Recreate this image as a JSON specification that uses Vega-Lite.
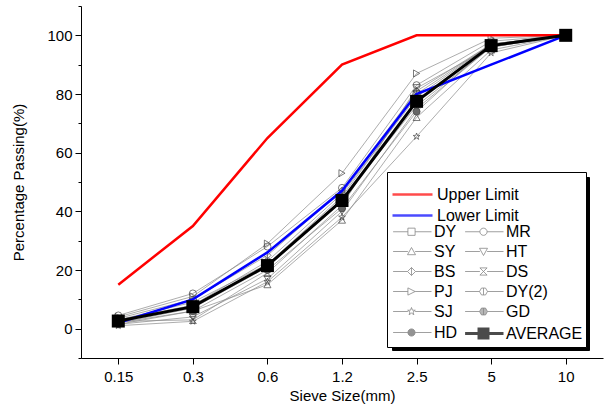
{
  "$schema": "https://vega.github.io/schema/vega-lite/v6.json",
  "width": 522,
  "height": 352,
  "autosize": {"type": "none"},
  "padding": {"left": 81, "top": 6, "right": 2, "bottom": 58},
  "background": "white",
  "config": {
    "view": {"stroke": null},
    "font": "Liberation Sans",
    "axis": {
      "grid": false,
      "domainColor": "black",
      "tickColor": "black",
      "labelColor": "black",
      "titleColor": "black",
      "labelFont": "Liberation Sans",
      "titleFont": "Liberation Sans",
      "labelFontSize": 15,
      "titleFontSize": 15,
      "titleFontWeight": "normal",
      "domainWidth": 1,
      "tickWidth": 1
    }
  },
  "data": {
    "values": [
      {"series": "Upper Limit", "size": 0.15, "pct": 15},
      {"series": "Upper Limit", "size": 0.3, "pct": 35},
      {"series": "Upper Limit", "size": 0.6, "pct": 65},
      {"series": "Upper Limit", "size": 1.2, "pct": 90},
      {"series": "Upper Limit", "size": 2.5, "pct": 100},
      {"series": "Upper Limit", "size": 5, "pct": 100},
      {"series": "Upper Limit", "size": 10, "pct": 100},
      {"series": "Lower Limit", "size": 0.15, "pct": 2},
      {"series": "Lower Limit", "size": 0.3, "pct": 10},
      {"series": "Lower Limit", "size": 0.6, "pct": 26},
      {"series": "Lower Limit", "size": 1.2, "pct": 47},
      {"series": "Lower Limit", "size": 2.5, "pct": 80},
      {"series": "Lower Limit", "size": 5, "pct": 90},
      {"series": "Lower Limit", "size": 10, "pct": 100},
      {"series": "DY", "size": 0.15, "pct": 3},
      {"series": "DY", "size": 0.3, "pct": 9},
      {"series": "DY", "size": 0.6, "pct": 22},
      {"series": "DY", "size": 1.2, "pct": 45},
      {"series": "DY", "size": 2.5, "pct": 80},
      {"series": "DY", "size": 5, "pct": 97},
      {"series": "DY", "size": 10, "pct": 100},
      {"series": "MR", "size": 0.15, "pct": 4.5},
      {"series": "MR", "size": 0.3, "pct": 12},
      {"series": "MR", "size": 0.6, "pct": 28},
      {"series": "MR", "size": 1.2, "pct": 48},
      {"series": "MR", "size": 2.5, "pct": 83},
      {"series": "MR", "size": 5, "pct": 98},
      {"series": "MR", "size": 10, "pct": 100},
      {"series": "SY", "size": 0.15, "pct": 2},
      {"series": "SY", "size": 0.3, "pct": 6},
      {"series": "SY", "size": 0.6, "pct": 15},
      {"series": "SY", "size": 1.2, "pct": 37},
      {"series": "SY", "size": 2.5, "pct": 72},
      {"series": "SY", "size": 5, "pct": 95},
      {"series": "SY", "size": 10, "pct": 100},
      {"series": "HT", "size": 0.15, "pct": 1.5},
      {"series": "HT", "size": 0.3, "pct": 4},
      {"series": "HT", "size": 0.6, "pct": 17},
      {"series": "HT", "size": 1.2, "pct": 40},
      {"series": "HT", "size": 2.5, "pct": 75},
      {"series": "HT", "size": 5, "pct": 96},
      {"series": "HT", "size": 10, "pct": 100},
      {"series": "BS", "size": 0.15, "pct": 3.5},
      {"series": "BS", "size": 0.3, "pct": 10},
      {"series": "BS", "size": 0.6, "pct": 25},
      {"series": "BS", "size": 1.2, "pct": 47},
      {"series": "BS", "size": 2.5, "pct": 81},
      {"series": "BS", "size": 5, "pct": 97},
      {"series": "BS", "size": 10, "pct": 100},
      {"series": "DS", "size": 0.15, "pct": 2.5},
      {"series": "DS", "size": 0.3, "pct": 3},
      {"series": "DS", "size": 0.6, "pct": 19},
      {"series": "DS", "size": 1.2, "pct": 42},
      {"series": "DS", "size": 2.5, "pct": 82},
      {"series": "DS", "size": 5, "pct": 96},
      {"series": "DS", "size": 10, "pct": 100},
      {"series": "PJ", "size": 0.15, "pct": 4},
      {"series": "PJ", "size": 0.3, "pct": 11},
      {"series": "PJ", "size": 0.6, "pct": 29},
      {"series": "PJ", "size": 1.2, "pct": 53},
      {"series": "PJ", "size": 2.5, "pct": 87},
      {"series": "PJ", "size": 5, "pct": 99},
      {"series": "PJ", "size": 10, "pct": 100},
      {"series": "DY(2)", "size": 0.15, "pct": 3},
      {"series": "DY(2)", "size": 0.3, "pct": 8},
      {"series": "DY(2)", "size": 0.6, "pct": 23},
      {"series": "DY(2)", "size": 1.2, "pct": 46},
      {"series": "DY(2)", "size": 2.5, "pct": 79},
      {"series": "DY(2)", "size": 5, "pct": 97},
      {"series": "DY(2)", "size": 10, "pct": 100},
      {"series": "SJ", "size": 0.15, "pct": 1},
      {"series": "SJ", "size": 0.3, "pct": 2.5},
      {"series": "SJ", "size": 0.6, "pct": 16},
      {"series": "SJ", "size": 1.2, "pct": 38},
      {"series": "SJ", "size": 2.5, "pct": 65.5},
      {"series": "SJ", "size": 5, "pct": 94},
      {"series": "SJ", "size": 10, "pct": 100},
      {"series": "GD", "size": 0.15, "pct": 2},
      {"series": "GD", "size": 0.3, "pct": 7},
      {"series": "GD", "size": 0.6, "pct": 21},
      {"series": "GD", "size": 1.2, "pct": 44},
      {"series": "GD", "size": 2.5, "pct": 76},
      {"series": "GD", "size": 5, "pct": 96},
      {"series": "GD", "size": 10, "pct": 100},
      {"series": "HD", "size": 0.15, "pct": 1.5},
      {"series": "HD", "size": 0.3, "pct": 6},
      {"series": "HD", "size": 0.6, "pct": 20},
      {"series": "HD", "size": 1.2, "pct": 41},
      {"series": "HD", "size": 2.5, "pct": 74},
      {"series": "HD", "size": 5, "pct": 97},
      {"series": "HD", "size": 10, "pct": 100},
      {"series": "AVERAGE", "size": 0.15, "pct": 2.6},
      {"series": "AVERAGE", "size": 0.3, "pct": 7.5},
      {"series": "AVERAGE", "size": 0.6, "pct": 21.5},
      {"series": "AVERAGE", "size": 1.2, "pct": 43.7},
      {"series": "AVERAGE", "size": 2.5, "pct": 77.5},
      {"series": "AVERAGE", "size": 5, "pct": 96.5},
      {"series": "AVERAGE", "size": 10, "pct": 100}
    ]
  },
  "encoding": {
    "x": {
      "field": "size",
      "type": "ordinal",
      "title": "Sieve Size(mm)",
      "scale": {"type": "point", "padding": 0.5},
      "axis": {"labelAngle": 0, "tickSize": 6, "labelPadding": 5, "titlePadding": 4}
    },
    "y": {
      "field": "pct",
      "type": "quantitative",
      "title": "Percentage Passing(%)",
      "scale": {"domain": [-10, 110], "nice": false, "zero": false},
      "axis": {
        "values": [-10, 0, 10, 20, 30, 40, 50, 60, 70, 80, 90, 100, 110],
        "labelExpr": "(datum.value % 20 === 0 && datum.value >= 0 && datum.value <= 100) ? datum.label : ''",
        "tickSize": {"condition": {"test": "datum.value % 20 === 0", "value": 6}, "value": 3},
        "labelPadding": 3,
        "titlePadding": 20
      }
    }
  },
  "layer": [
    {
      "transform": [{"filter": {"not": {"field": "series", "oneOf": ["Upper Limit", "Lower Limit", "AVERAGE"]}}}],
      "mark": {"type": "line", "color": "#8a8a8a", "strokeWidth": 0.7},
      "encoding": {"detail": {"field": "series", "type": "nominal"}}
    },
    {
      "transform": [{"filter": {"not": {"field": "series", "oneOf": ["Upper Limit", "Lower Limit", "AVERAGE"]}}}],
      "mark": {"type": "point", "filled": false, "size": 50, "stroke": "#444444", "strokeWidth": 0.7, "opacity": 1},
      "encoding": {
        "shape": {
          "field": "series",
          "type": "nominal",
          "legend": null,
          "scale": {
            "domain": ["DY", "MR", "SY", "HT", "BS", "DS", "PJ", "DY(2)", "SJ", "GD", "HD"],
            "range": [
              "square",
              "circle",
              "triangle-up",
              "triangle-down",
              "M0,-1L1,0L0,1L-1,0ZM0,-1V1",
              "M-1,-1L1,1M1,-1L-1,1M-1,-1H1M-1,1H1",
              "triangle-right",
              "M-0.5,-0.87H0.5L1,0L0.5,0.87H-0.5L-1,0ZM0,-0.87V0.87",
              "M0,-1L0.24,-0.33L0.95,-0.31L0.38,0.12L0.59,0.81L0,0.4L-0.59,0.81L-0.38,0.12L-0.95,-0.31L-0.24,-0.33Z",
              "M-0.5,-0.87H0.5L1,0L0.5,0.87H-0.5L-1,0ZM0,-0.87V0.87",
              "circle"
            ]
          }
        },
        "fill": {
          "field": "series",
          "type": "nominal",
          "legend": null,
          "scale": {
            "domain": ["DY", "MR", "SY", "HT", "BS", "DS", "PJ", "DY(2)", "SJ", "GD", "HD"],
            "range": ["transparent", "transparent", "transparent", "transparent", "transparent", "transparent", "transparent", "transparent", "transparent", "#999999", "#666666"]
          }
        }
      }
    },
    {
      "transform": [{"filter": "datum.series === 'Upper Limit'"}],
      "mark": {"type": "line", "color": "#ff0000", "strokeWidth": 2.5},
      "encoding": {}
    },
    {
      "transform": [{"filter": "datum.series === 'Lower Limit'"}],
      "mark": {"type": "line", "color": "#0000ff", "strokeWidth": 2.5},
      "encoding": {}
    },
    {
      "transform": [{"filter": "datum.series === 'AVERAGE'"}],
      "mark": {"type": "line", "color": "#000000", "strokeWidth": 3},
      "encoding": {}
    },
    {
      "transform": [{"filter": "datum.series === 'AVERAGE'"}],
      "mark": {"type": "point", "shape": "square", "filled": true, "color": "#000000", "size": 169, "opacity": 1},
      "encoding": {}
    },
    {
      "transform": [{"filter": "false"}],
      "mark": {"type": "point", "filled": false, "color": "transparent"},
      "encoding": {
        "shape": {
          "field": "series",
          "type": "nominal",
          "title": null,
          "scale": {"domain": ["AVERAGE"], "range": ["M0,0H22.3V19.35"]},
          "legend": {
            "orient": "none",
            "legendX": 311,
            "legendY": 171,
            "labelExpr": "''",
            "symbolSize": 256,
            "symbolStrokeColor": "transparent",
            "symbolFillColor": "transparent",
            "padding": 3,
            "strokeColor": "black",
            "fillColor": "black"
          }
        }
      }
    },
    {
      "transform": [{"filter": "false"}],
      "mark": {"type": "point", "filled": false},
      "encoding": {
        "shape": {
          "field": "series",
          "type": "nominal",
          "scale": {
            "domain": ["DY", "MR", "SY", "HT", "BS", "DS", "PJ", "DY(2)", "SJ", "GD", "HD", "AVERAGE"],
            "range": [
              "M-0.8,0H1.05M1.95,0H4M1.05,-0.45H1.95V0.45H1.05Z",
              "M-0.8,0H1.05M1.95,0H4M1.05,0A0.45,0.45,0,1,0,1.95,0A0.45,0.45,0,1,0,1.05,0Z",
              "M-0.8,0H1.05M1.95,0H4M1.5,-0.5L2,0.4H1Z",
              "M-0.8,0H1.05M1.95,0H4M1,-0.4H2L1.5,0.5Z",
              "M-0.8,0H1M2,0H4M1.5,-0.5L2,0L1.5,0.5L1,0ZM1.5,-0.5V0.5",
              "M-0.8,0H1.05M1.95,0H4M1.05,-0.45L1.95,0.45M1.95,-0.45L1.05,0.45M1.05,-0.45H1.95M1.05,0.45H1.95",
              "M-0.8,0H1.05M1.95,0H4M1.05,-0.45L1.95,0L1.05,0.45Z",
              "M-0.8,0H1M2,0H4M1.25,-0.43H1.75L2,0L1.75,0.43H1.25L1,0ZM1.5,-0.43V0.43",
              "M-0.8,0H1.05M1.95,0H4M1.5,-0.5L1.62,-0.165L1.975,-0.155L1.69,0.06L1.795,0.405L1.5,0.2L1.205,0.405L1.31,0.06L1.025,-0.155L1.38,-0.165Z",
              "M-0.8,0H1M2,0H4M1.25,-0.43H1.75L2,0L1.75,0.43H1.25L1,0ZM1.5,-0.43V0.43",
              "M-0.8,0H1.05M1.95,0H4M1.05,0A0.45,0.45,0,1,0,1.95,0A0.45,0.45,0,1,0,1.05,0Z",
              "M-0.8,0H0.94M2.06,0H4M0.94,-0.56H2.06V0.56H0.94Z"
            ]
          },
          "legend": {
            "title": ["\u00a0", "\u00a0"],
            "titleFontSize": 16,
            "titleLineHeight": 26,
            "titlePadding": 6,
            "titleColor": "black",
            "orient": "none",
            "legendX": 306,
            "legendY": 166,
            "direction": "horizontal",
            "columns": 2,
            "gridAlign": "each",
            "symbolSize": 256,
            "symbolFillColor": "transparent",
            "labelOffset": 25,
            "labelFont": "Liberation Sans",
            "labelFontSize": 16,
            "labelColor": "black",
            "labelLimit": 300,
            "padding": 3,
            "rowPadding": 3,
            "columnPadding": 1,
            "strokeColor": "black",
            "fillColor": "white"
          }
        },
        "fill": {
          "field": "series",
          "type": "nominal",
          "scale": {
            "domain": ["DY", "MR", "SY", "HT", "BS", "DS", "PJ", "DY(2)", "SJ", "GD", "HD", "AVERAGE"],
            "range": ["transparent", "transparent", "transparent", "transparent", "transparent", "transparent", "transparent", "transparent", "transparent", "#999999", "#666666", "#000000"]
          }
        },
        "stroke": {
          "field": "series",
          "type": "nominal",
          "scale": {
            "domain": ["DY", "MR", "SY", "HT", "BS", "DS", "PJ", "DY(2)", "SJ", "GD", "HD", "AVERAGE"],
            "range": ["#555555", "#555555", "#555555", "#555555", "#555555", "#555555", "#555555", "#555555", "#555555", "#555555", "#555555", "#000000"]
          }
        },
        "strokeWidth": {
          "field": "series",
          "type": "nominal",
          "scale": {
            "type": "ordinal",
            "domain": ["DY", "MR", "SY", "HT", "BS", "DS", "PJ", "DY(2)", "SJ", "GD", "HD", "AVERAGE"],
            "range": [0.8, 0.8, 0.8, 0.8, 0.8, 0.8, 0.8, 0.8, 0.8, 0.8, 0.8, 3]
          }
        }
      }
    },
    {
      "transform": [{"filter": "false"}],
      "mark": {"type": "point", "filled": false},
      "encoding": {
        "shape": {
          "field": "series",
          "type": "nominal",
          "title": null,
          "scale": {
            "domain": ["Upper Limit", "Lower Limit"],
            "range": ["M-1,0H4", "M-1,0H4"]
          },
          "legend": {
            "orient": "none",
            "legendX": 310,
            "legendY": 179,
            "direction": "vertical",
            "symbolSize": 256,
            "symbolFillColor": "transparent",
            "labelOffset": 27,
            "labelFont": "Liberation Sans",
            "labelFontSize": 16,
            "labelColor": "black",
            "labelLimit": 300,
            "padding": 0,
            "rowPadding": 3
          }
        },
        "stroke": {
          "field": "series",
          "type": "nominal",
          "title": null,
          "scale": {"domain": ["Upper Limit", "Lower Limit"], "range": ["#ff0000", "#0000ff"]}
        },
        "strokeWidth": {
          "field": "series",
          "type": "nominal",
          "title": null,
          "scale": {"type": "ordinal", "domain": ["Upper Limit", "Lower Limit"], "range": [2.5, 2.5]}
        }
      }
    }
  ],
  "resolve": {"scale": {"shape": "independent", "fill": "independent", "stroke": "independent", "strokeWidth": "independent"}}
}
